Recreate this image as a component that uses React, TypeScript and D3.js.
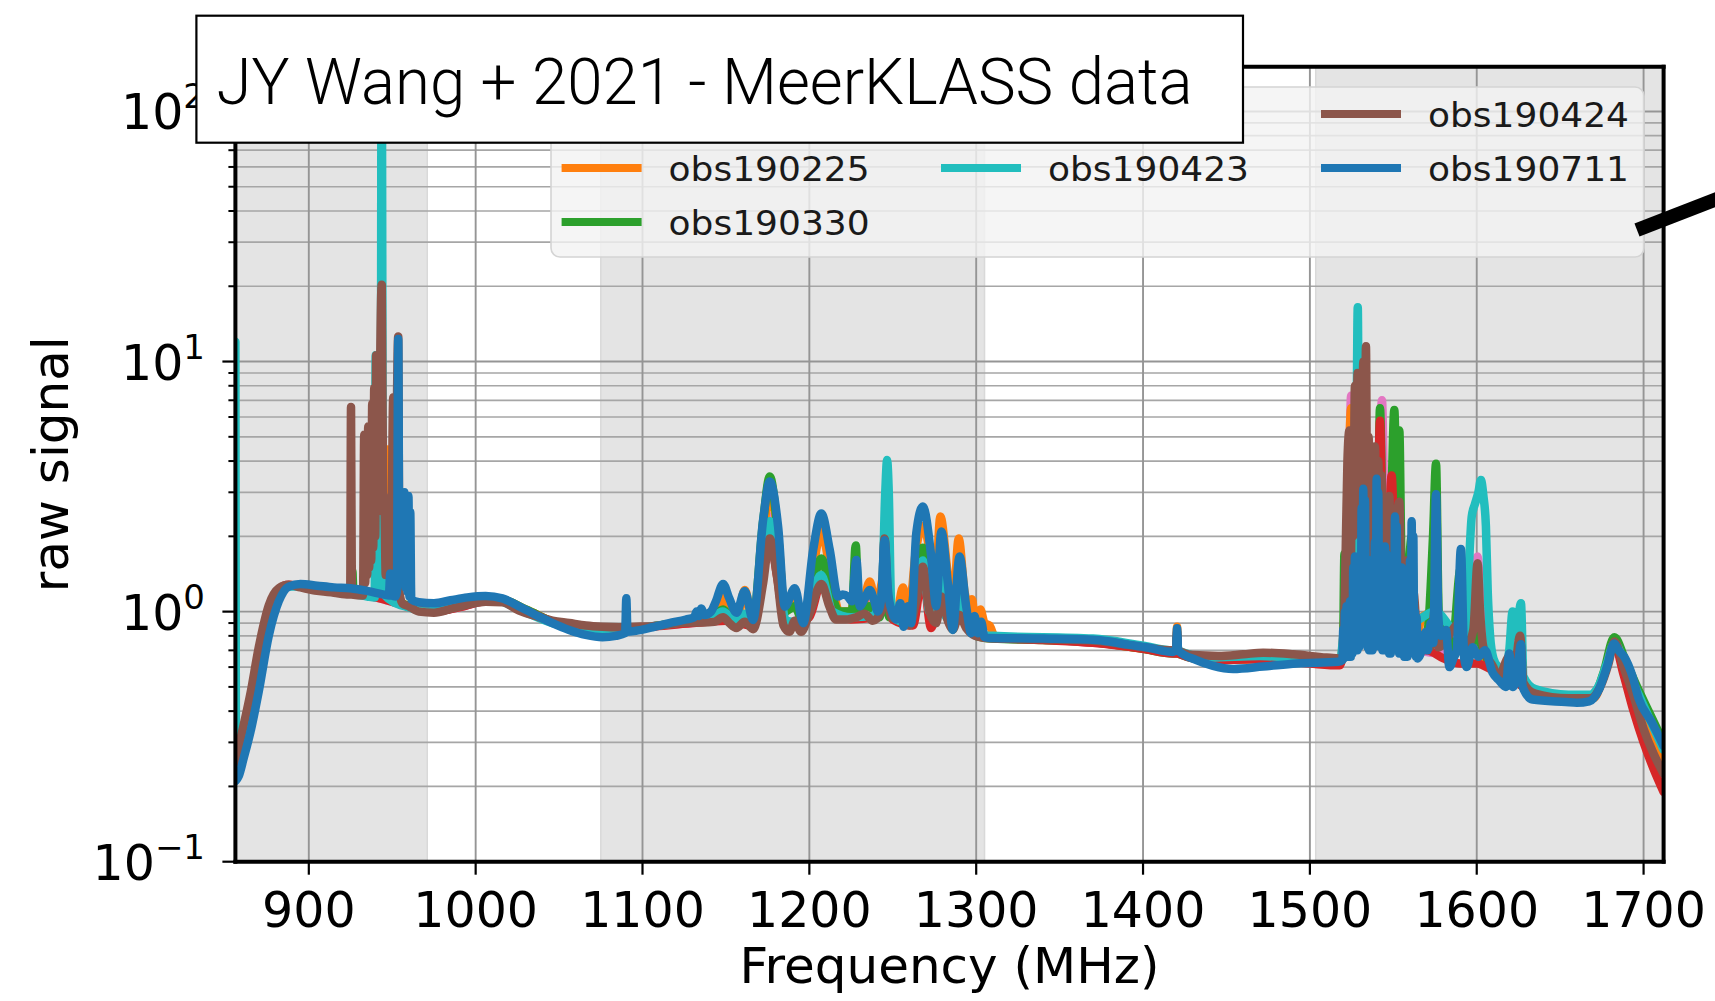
import React from 'react';
import * as d3 from 'd3';

type Pt = [number, number];

// Axis extents and tick values
const freqDomain: [number, number] = [856, 1712];
const signalDomain: [number, number] = [0.1, 151];
const freqTicks = [900, 1000, 1100, 1200, 1300, 1400, 1500, 1600, 1700];
const decadeTicks = [0.1, 1, 10, 100];
const decadeExponents = ['\u22121', '0', '1', '2'];

// Flagged (shaded) frequency bands, MHz
const maskedBands: Pt[] = [
  [856, 971],
  [1075, 1305],
  [1503.5, 1712],
];

// Raw signal spectra, [frequency MHz, raw signal]
const obs190711: Pt[] = [
  [856, 0.21], [858, 0.22], [861, 0.26], [865, 0.33], [870, 0.48], [876, 0.8], [882, 1.1], [888, 1.26],
  [895, 1.29], [905, 1.27], [915, 1.25], [925, 1.24], [935, 1.21], [945, 1.17], [948, 1.16], [948.8, 1.42],
  [949.5, 1.16], [952, 1.15], [952.8, 1.2], [953.6, 12.3], [954.3, 1.3], [954.9, 3.0], [955.5, 1.3],
  [956.1, 3.0], [956.7, 1.3], [957.3, 3.0], [957.9, 1.25], [958.5, 2.9], [959.1, 1.2], [959.7, 2.9],
  [960.3, 1.15], [960.8, 2.5], [961.4, 1.12], [966, 1.09], [975, 1.08], [985, 1.11], [995, 1.14],
  [1006, 1.155], [1016, 1.13], [1026, 1.05], [1036, 0.97], [1046, 0.9], [1056, 0.845], [1066, 0.807],
  [1076, 0.79], [1084, 0.8], [1089.6, 0.82], [1090.3, 1.13], [1091, 0.83], [1096, 0.838], [1106, 0.866],
  [1116, 0.899], [1126, 0.93], [1131, 0.95], [1132.4, 1.0], [1133.8, 0.96], [1135.3, 1.03], [1137, 0.97],
  [1141, 1.0], [1144, 1.1], [1148.3, 1.29], [1152, 1.13], [1156.3, 0.99], [1161.3, 1.21], [1166.3, 0.926],
  [1172.3, 2.33], [1176.3, 3.31], [1181.3, 2.18], [1185.3, 1.047], [1191.3, 1.24], [1196.3, 0.899],
  [1202.3, 1.77], [1207.2, 2.47], [1212.2, 1.77], [1217.2, 1.15], [1220, 1.17], [1223, 1.15], [1225.5, 1.1],
  [1228.2, 1.61], [1230.2, 1.05], [1233, 1.12], [1236.2, 1.22], [1239, 1.1], [1241, 1.0], [1243.2, 1.15],
  [1245.1, 1.93], [1247.2, 1.2], [1249.5, 1.0], [1252.1, 0.93], [1254.5, 1.08], [1256.6, 0.87], [1259, 1.05],
  [1261, 0.9], [1264.1, 2.06], [1268, 2.63], [1273, 1.67], [1276, 1.05], [1279.1, 2.09], [1283, 1.3],
  [1286, 0.845], [1290, 1.66], [1294, 1.05], [1297, 0.82], [1299, 0.96], [1301, 0.82], [1303, 0.91],
  [1305, 0.79], [1308, 0.785], [1340, 0.78], [1372, 0.77], [1392, 0.736], [1402, 0.72], [1418, 0.69],
  [1419.8, 0.7], [1420.4, 0.858], [1421, 0.7], [1432, 0.64], [1442, 0.607], [1454, 0.59], [1472, 0.603],
  [1492, 0.62], [1517, 0.63], [1519.5, 0.64], [1520, 0.85], [1520.5, 0.65], [1521, 1.0], [1521.5, 0.66],
  [1522, 1.05], [1522.5, 0.66], [1523, 0.95], [1523.5, 0.67], [1524, 1.1], [1524.5, 0.66], [1525, 1.05],
  [1525.5, 0.68], [1526, 1.5], [1526.5, 0.7], [1527, 1.66], [1527.5, 0.7], [1528, 1.55], [1528.5, 0.7],
  [1529, 1.6], [1529.5, 0.72], [1530, 1.45], [1530.5, 0.75], [1531, 2.6], [1531.5, 0.8], [1532, 3.1],
  [1532.5, 0.8], [1533, 2.8], [1533.5, 0.75], [1534, 1.6], [1534.5, 0.72], [1535, 1.5], [1535.5, 0.7],
  [1536, 1.6], [1536.5, 0.7], [1537, 1.45], [1537.5, 0.7], [1538, 1.6], [1538.5, 0.72], [1539, 1.9],
  [1539.5, 0.8], [1540, 3.4], [1540.5, 0.8], [1541, 3.0], [1541.5, 0.75], [1542, 1.8], [1542.5, 0.72],
  [1543, 1.75], [1543.5, 0.7], [1544, 1.8], [1544.5, 0.7], [1545, 1.82], [1545.5, 0.7], [1546, 1.7],
  [1546.5, 0.7], [1547, 1.5], [1547.5, 0.68], [1548, 1.45], [1548.5, 0.68], [1549, 1.5], [1549.5, 0.7],
  [1550, 1.6], [1550.5, 0.75], [1551, 2.4], [1551.5, 0.75], [1552, 2.2], [1552.5, 0.72], [1553, 1.5],
  [1553.5, 0.68], [1554, 1.45], [1554.5, 0.68], [1555, 1.5], [1555.5, 0.68], [1556, 1.4], [1556.5, 0.66],
  [1557, 1.45], [1557.5, 0.66], [1558, 1.2], [1558.5, 0.66], [1559, 1.25], [1559.5, 0.7], [1560, 1.6],
  [1560.5, 0.75], [1561, 2.3], [1561.5, 0.75], [1562, 2.0], [1562.5, 0.7], [1563, 1.0], [1563.5, 0.66],
  [1564, 0.95], [1564.5, 0.65], [1565.5, 0.66], [1567.5, 0.72], [1569.5, 0.83],
  [1570.5, 0.7], [1572.5, 0.9], [1574, 0.75], [1575.6, 2.95], [1577, 0.95], [1578.5, 0.8], [1581.6, 0.845],
  [1583.6, 0.6], [1586, 0.65], [1588, 0.7], [1590.5, 1.78], [1592.5, 0.65], [1594, 0.6], [1597.5, 0.72],
  [1601, 0.66], [1605, 0.7], [1609.5, 0.57], [1613.5, 0.53], [1617.5, 0.5], [1619.5, 0.68], [1621.5, 0.5],
  [1624, 0.55], [1626.5, 0.74], [1627.5, 0.5], [1633.5, 0.445], [1653.4, 0.435], [1660, 0.432],
  [1667.4, 0.438], [1673.4, 0.49], [1678, 0.6], [1682.4, 0.745], [1685, 0.7], [1688.4, 0.66], [1693.4, 0.55],
  [1697, 0.45], [1705, 0.36], [1712, 0.29],
];

const obs190424: Pt[] = [
  [856, 0.25], [860, 0.33], [865, 0.47], [870, 0.72], [876, 1.06], [882, 1.24], [888, 1.28], [895, 1.25],
  [905, 1.21], [915, 1.19], [924, 1.17], [924.8, 1.17], [925.3, 6.58], [925.8, 1.17], [932.5, 1.16],
  [933.2, 5.1], [933.8, 1.3], [934.4, 5.0], [935.0, 1.4], [935.6, 5.5], [936.2, 1.5], [936.8, 5.2],
  [937.4, 1.6], [938.0, 6.8], [938.6, 1.8], [939.2, 7.85], [939.8, 2.0], [940.4, 10.6], [941.0, 2.5],
  [941.6, 10.6], [942.2, 3.0], [942.8, 10.0], [943.7, 20.3], [944.5, 3.0], [945.3, 2.8], [946.1, 1.4],
  [946.8, 2.8], [947.6, 1.4], [948.4, 2.7], [949.2, 1.3], [950.6, 7.2], [951.3, 1.2], [953.6, 12.6],
  [954.3, 1.2], [956, 1.08], [960, 1.05], [966, 1.0], [975, 0.99], [986, 1.03], [996, 1.07], [1006, 1.096],
  [1016, 1.09], [1026, 1.01], [1036, 0.96], [1046, 0.92], [1056, 0.9], [1066, 0.88], [1076, 0.87],
  [1086, 0.866], [1096, 0.87], [1106, 0.875], [1116, 0.89], [1126, 0.905], [1136, 0.905], [1143, 0.91],
  [1148.3, 0.95], [1152, 0.9], [1156.3, 0.86], [1161.3, 0.91], [1166.3, 0.85], [1172.3, 1.3], [1176.3, 1.96],
  [1180.5, 1.4], [1184.5, 0.88], [1188, 0.83], [1191.3, 0.92], [1195, 0.83], [1200, 0.98], [1207.2, 1.29],
  [1212, 1.05], [1216, 0.93], [1222, 0.93], [1228, 0.95], [1233, 0.98], [1238, 0.92], [1243, 1.0],
  [1245.1, 1.96], [1247.2, 1.1], [1250, 0.94], [1256, 0.95], [1260, 0.88], [1264, 1.1], [1268, 1.51],
  [1272, 1.0], [1276, 0.9], [1279.1, 1.15], [1283, 0.92], [1286, 0.85], [1290, 0.97], [1294, 0.86],
  [1298, 0.81], [1305, 0.785], [1310, 0.78], [1340, 0.775], [1372, 0.765], [1400, 0.72], [1418, 0.7],
  [1419.8, 0.7], [1420.4, 0.83], [1421, 0.7], [1430, 0.67], [1445, 0.665], [1460, 0.675], [1472, 0.685],
  [1490, 0.675], [1510, 0.655], [1518, 0.65], [1519.5, 0.66], [1521, 1.2], [1522.5, 4.0], [1523.7, 5.3],
  [1524.5, 1.5], [1525.3, 5.0], [1526, 2.0], [1527, 8.0], [1527.8, 3.0], [1528.6, 9.0], [1529.4, 2.5],
  [1530.2, 8.5], [1531, 2.0], [1532, 10], [1533, 3.0], [1533.6, 11.5], [1534.4, 2.0], [1535.2, 5.0],
  [1536, 1.5], [1537, 4.5], [1538, 1.5], [1539, 4.57], [1540, 1.3], [1541, 4.0], [1542, 1.2], [1543, 3.5],
  [1544, 1.1], [1546, 1.5], [1547.6, 2.9], [1549, 1.0], [1551, 1.8], [1553.6, 2.75], [1555, 1.0],
  [1558, 1.6], [1560, 0.8], [1562, 1.2], [1565, 0.72], [1572, 0.72], [1575.6, 1.1], [1577, 0.72],
  [1590, 0.9], [1593, 0.7], [1598, 0.85], [1600.5, 1.56], [1602, 1.0], [1604, 0.72], [1610, 0.6],
  [1613, 0.55], [1619.5, 0.66], [1622, 0.55], [1626, 0.8], [1628, 0.52], [1635, 0.47], [1655, 0.45],
  [1668, 0.45], [1674, 0.5], [1679, 0.62], [1682.5, 0.76], [1688, 0.6], [1694, 0.46], [1700, 0.34],
  [1706, 0.27], [1712, 0.225],
];

const obs190423: Pt[] = [
  [856, 12], [856.4, 0.24], [860, 0.28], [865, 0.37], [870, 0.56], [876, 0.9], [882, 1.17], [888, 1.26],
  [895, 1.26], [905, 1.23], [915, 1.2], [925, 1.18], [935, 1.15], [939.5, 1.14], [940.1, 10.6], [940.7, 1.3],
  [943, 1.3], [943.7, 400], [944.4, 1.2], [950, 1.1], [960, 1.04], [970, 1.0], [985, 1.04], [1000, 1.09],
  [1012, 1.11], [1026, 1.02], [1046, 0.9], [1066, 0.845], [1086, 0.85], [1106, 0.875], [1126, 0.91],
  [1140, 0.93], [1148, 1.0], [1156, 0.92], [1161, 0.98], [1166, 0.9], [1172, 1.6], [1176.3, 2.3],
  [1181, 1.5], [1186, 0.92], [1196, 0.9], [1207, 1.4], [1214, 1.0], [1225, 0.95], [1238, 0.96],
  [1243.5, 1.2], [1245.5, 3.0], [1246.6, 4.04], [1247.6, 3.0], [1249, 1.1], [1252, 0.93], [1260, 0.9],
  [1264, 1.3], [1268, 1.6], [1272, 1.0], [1278.5, 1.45], [1282, 0.95], [1289.5, 1.22], [1294, 0.9],
  [1300, 0.82], [1310, 0.8], [1370, 0.78], [1400, 0.73], [1418, 0.7], [1419.8, 0.7], [1420.4, 0.8],
  [1421, 0.7], [1440, 0.655], [1470, 0.665], [1500, 0.645], [1518, 0.64], [1522, 1.0], [1524, 0.7],
  [1527.5, 2.0], [1528.7, 16.5], [1529.7, 1.0], [1533, 1.5], [1540, 1.2], [1545, 0.9], [1552, 1.5],
  [1560, 0.9], [1575, 1.0], [1590, 0.8], [1594, 0.85], [1595.5, 1.6], [1597, 2.4], [1599, 2.7],
  [1601, 3.0], [1602.5, 3.36], [1604, 2.9], [1605.5, 2.2], [1606.6, 1.2], [1608, 0.8], [1610, 0.65],
  [1613, 0.6], [1617, 0.58], [1619.5, 0.7], [1621.5, 1.0], [1623.5, 0.8], [1626.5, 1.08], [1628, 0.55],
  [1635, 0.49], [1655, 0.465], [1668, 0.465], [1674, 0.52], [1678, 0.62], [1682.5, 0.75], [1688, 0.64],
  [1695, 0.5], [1703, 0.38], [1712, 0.28],
];

const obs190330: Pt[] = [
  [856, 0.23], [860, 0.29], [865, 0.4], [870, 0.6], [876, 0.95], [882, 1.2], [888, 1.27], [895, 1.27],
  [905, 1.24], [915, 1.21], [925.5, 1.2], [926.1, 1.45], [926.7, 1.2], [935, 1.17], [945, 1.13], [955, 1.08],
  [965, 1.03], [975, 1.0], [990, 1.05], [1005, 1.11], [1015, 1.12], [1030, 1.02], [1050, 0.89], [1070, 0.83],
  [1090, 0.84], [1110, 0.88], [1130, 0.92], [1140, 0.93], [1148.3, 1.02], [1153, 0.94], [1156.3, 0.9],
  [1161.3, 0.97], [1166, 0.9], [1172.3, 2.3], [1176.3, 3.47], [1181, 2.1], [1185.3, 1.0], [1191.3, 1.05],
  [1196.3, 0.9], [1202.3, 1.3], [1207.2, 1.63], [1212.2, 1.25], [1218, 1.0], [1225.5, 1.0], [1227.8, 1.84],
  [1229.5, 1.0], [1236, 1.05], [1242, 0.95], [1245.1, 1.3], [1248, 0.95], [1256, 0.95], [1260, 0.9],
  [1264.1, 1.5], [1268, 1.8], [1273, 1.2], [1276, 0.95], [1278.5, 1.5], [1283, 1.0], [1286, 0.85],
  [1289.5, 1.2], [1294, 0.9], [1300, 0.8], [1310, 0.78], [1340, 0.77], [1370, 0.755], [1400, 0.71],
  [1418, 0.68], [1419.8, 0.68], [1420.4, 0.8], [1421, 0.68], [1440, 0.64], [1470, 0.65], [1500, 0.635],
  [1518, 0.63], [1519.8, 0.65], [1520.7, 1.7], [1521.5, 0.7], [1524, 1.0], [1527, 2.0], [1530, 1.4],
  [1534, 1.5], [1538, 2.5], [1540.5, 1.5], [1542, 6.5], [1543.5, 2.5], [1546, 1.5], [1548.5, 2.3],
  [1550.6, 6.4], [1552, 3.0], [1553.6, 5.3], [1555, 1.5], [1558, 1.2], [1561, 2.0], [1563, 0.8], [1570, 0.8],
  [1573.8, 2.0], [1575.6, 3.9], [1577.2, 1.0], [1585, 0.7], [1590.5, 1.5], [1593, 0.65], [1600, 0.8],
  [1604, 0.7], [1612, 0.56], [1620, 0.56], [1626, 0.7], [1628, 0.5], [1640, 0.46], [1660, 0.45], [1670, 0.46],
  [1676, 0.57], [1682.5, 0.79], [1689, 0.64], [1695, 0.52], [1703, 0.4], [1712, 0.3],
];

const obs190225: Pt[] = [
  [856, 0.23], [860, 0.28], [865, 0.38], [870, 0.57], [876, 0.92], [882, 1.18], [888, 1.27], [895, 1.27],
  [905, 1.24], [915, 1.21], [925, 1.2], [935, 1.17], [945, 1.14], [946.6, 1.3], [947.2, 4.45], [947.8, 1.3],
  [955, 1.09], [965, 1.03], [975, 1.0], [990, 1.05], [1005, 1.11], [1015, 1.12], [1030, 1.02], [1050, 0.89],
  [1070, 0.83], [1090, 0.84], [1110, 0.88], [1130, 0.92], [1140, 0.93], [1144, 1.0], [1148.3, 1.2],
  [1152, 0.95], [1156.3, 0.9], [1161.3, 1.22], [1166.3, 0.9], [1172.3, 2.0], [1176.3, 3.0], [1181.3, 2.0],
  [1185.3, 1.0], [1191.3, 1.1], [1196.3, 0.9], [1202.3, 1.5], [1207.2, 2.1], [1212.2, 1.5], [1218, 1.0],
  [1225, 1.0], [1228, 1.2], [1231, 1.0], [1236.2, 1.32], [1240, 1.05], [1245, 1.4], [1248, 1.0], [1252, 0.95],
  [1256.1, 1.25], [1259, 0.9], [1264.1, 1.8], [1268, 2.2], [1273, 1.6], [1275.5, 1.2], [1278.5, 2.4],
  [1283, 1.4], [1286, 1.0], [1289.5, 1.96], [1293, 1.2], [1296, 1.05], [1297.5, 1.12], [1299, 0.95],
  [1302.5, 1.02], [1305, 0.9], [1308, 0.88], [1311, 0.8], [1340, 0.775], [1370, 0.755], [1400, 0.71],
  [1418, 0.685], [1419.8, 0.685], [1420.4, 0.87], [1421, 0.685], [1440, 0.64], [1470, 0.645], [1500, 0.63],
  [1518, 0.62], [1520, 0.8], [1522, 1.5], [1524.7, 6.5], [1526, 1.5], [1530, 2.0], [1535, 1.2], [1540, 2.0],
  [1545, 1.0], [1550, 1.5], [1556, 0.9], [1563, 0.7], [1567, 0.95], [1572, 0.98], [1578, 0.92], [1583, 0.82],
  [1590, 0.8], [1600, 0.7], [1610, 0.6], [1620, 0.55], [1628, 0.5], [1640, 0.46], [1660, 0.445], [1670, 0.45],
  [1676, 0.55], [1682.5, 0.76], [1689, 0.62], [1695, 0.48], [1703, 0.34], [1712, 0.245],
];

const redSpectrum: Pt[] = [
  [856, 0.25], [860, 0.31], [865, 0.44], [870, 0.68], [876, 1.02], [882, 1.23], [888, 1.28], [895, 1.26],
  [905, 1.23], [915, 1.2], [925, 1.19], [935, 1.16], [945, 1.12], [955, 1.07], [965, 1.02], [975, 1.0],
  [990, 1.04], [1005, 1.1], [1015, 1.11], [1030, 1.01], [1050, 0.89], [1070, 0.85], [1090, 0.85],
  [1110, 0.875], [1130, 0.9], [1150, 0.92], [1166, 0.88], [1172, 1.5], [1176.3, 2.0], [1180.5, 1.4],
  [1186, 0.86], [1200, 0.95], [1207.2, 1.3], [1214, 1.0], [1225, 0.93], [1240, 0.95], [1245.1, 1.3],
  [1250, 0.93], [1262, 0.88], [1268, 1.4], [1273, 0.86], [1279.1, 1.2], [1284, 0.9], [1290, 1.0],
  [1295, 0.85], [1305, 0.79], [1340, 0.77], [1370, 0.75], [1400, 0.71], [1418, 0.68], [1419.8, 0.68],
  [1420.4, 0.8], [1421, 0.68], [1440, 0.64], [1470, 0.645], [1500, 0.62], [1518, 0.61], [1520, 0.7],
  [1523, 1.2], [1525, 0.8], [1528, 3.0], [1530, 1.0], [1533, 2.0], [1536, 1.0], [1538.5, 4.5], [1540, 1.5],
  [1542, 5.8], [1543.5, 2.0], [1546, 1.2], [1549, 3.5], [1551, 1.5], [1553, 1.2], [1556, 0.9], [1560, 1.2],
  [1563, 0.7], [1570, 0.7], [1580, 0.65], [1590, 0.62], [1600, 0.62], [1610, 0.58], [1620, 0.54], [1628, 0.5],
  [1640, 0.46], [1660, 0.445], [1670, 0.455], [1676, 0.55], [1682.5, 0.74], [1688, 0.56], [1694, 0.4],
  [1700, 0.3], [1706, 0.235], [1712, 0.19],
];

const pinkSpectrum: Pt[] = [
  [856, 0.24], [860, 0.3], [865, 0.42], [870, 0.63], [876, 0.98], [882, 1.21], [888, 1.27], [895, 1.26],
  [905, 1.23], [915, 1.2], [925, 1.19], [935, 1.16], [945, 1.12], [955, 1.07], [965, 1.02], [975, 1.0],
  [990, 1.04], [1005, 1.1], [1015, 1.11], [1030, 1.01], [1050, 0.89], [1070, 0.84], [1090, 0.85],
  [1110, 0.88], [1130, 0.9], [1150, 0.93], [1166, 0.9], [1172, 1.6], [1176.3, 2.4], [1180.5, 1.5],
  [1186, 0.9], [1200, 1.0], [1207.2, 1.4], [1214, 1.0], [1225, 0.95], [1233, 1.0], [1236.2, 1.15],
  [1240, 0.95], [1245.1, 1.3], [1250, 0.93], [1268, 1.4], [1273, 0.9], [1279.1, 1.2], [1290, 1.0],
  [1305, 0.8], [1340, 0.775], [1400, 0.715], [1418, 0.685], [1419.8, 0.685], [1420.4, 0.8], [1421, 0.685],
  [1440, 0.645], [1470, 0.65], [1500, 0.63], [1518, 0.62], [1521, 1.0], [1523, 2.0], [1524.7, 7.3],
  [1526, 2.0], [1528, 1.0], [1531, 2.5], [1534, 1.2], [1538, 3.0], [1540, 1.5], [1543.2, 7.0], [1545, 2.0],
  [1548, 1.5], [1552, 1.1], [1556, 0.9], [1565, 0.7], [1580, 0.68], [1596, 0.9], [1600.5, 1.66],
  [1603, 0.9], [1610, 0.6], [1620, 0.6], [1622, 0.75], [1624, 0.6], [1628, 0.52], [1640, 0.47],
  [1660, 0.45], [1670, 0.46], [1676, 0.55], [1682.5, 0.76], [1688, 0.6], [1694, 0.47], [1700, 0.36],
  [1706, 0.31], [1712, 0.27],
];

// Series in plotting order (first drawn at the bottom); legend fills column by column
const seriesLabels = [null, 'obs190225', 'obs190330', null, 'obs190423', 'obs190424', 'obs190711'];
const seriesColors = ['#e377c2', '#ff7f0e', '#2ca02c', '#d62728', '#22bebe', '#8c564b', '#1f77b4'];
const seriesData = [pinkSpectrum, obs190225, obs190330, redSpectrum, obs190423, obs190424, obs190711];

const titleText = 'JY Wang + 2021 - MeerKLASS data';

const tickFont = "'DejaVu Sans', 'Liberation Sans', sans-serif";

export default function App() {
  const width = 1715;
  const height = 1001;
  const plot = { left: 235.4, right: 1663.6, top: 66.7, bottom: 861.7 };

  const x = d3.scaleLinear().domain(freqDomain).range([plot.left, plot.right]);
  const y = d3.scaleLog().domain(signalDomain).range([plot.bottom, plot.top]);
  const line = d3
    .line<Pt>()
    .x((d) => x(d[0]))
    .y((d) => y(d[1]))
    .curve(d3.curveMonotoneX);

  const isDecade = (v: number) => Math.abs(Math.log10(v) - Math.round(Math.log10(v))) < 1e-6;
  const minorTicks = y.ticks().filter((v) => !isDecade(v) && v <= signalDomain[1]);

  const series = seriesData.map((data, i) => ({
    data,
    color: seriesColors[i],
    label: seriesLabels[i],
  }));

  // legend slots: 3 columns holding 3, 2, 2 entries
  const colCounts = [3, 2, 2];
  const slots: { col: number; row: number }[] = [];
  colCounts.forEach((n, c) => {
    for (let r = 0; r < n; r++) slots.push({ col: c, row: r });
  });
  const legendColX = [561.6, 941, 1321];
  const legendRowY = [114, 168, 222];

  return (
    <svg
      width={width}
      height={height}
      viewBox={`0 0 ${width} ${height}`}
      style={{ position: 'absolute', left: 0, top: 0, background: '#ffffff' }}
    >
      <defs>
        <clipPath id="plot-clip">
          <rect x={plot.left} y={plot.top} width={plot.right - plot.left} height={plot.bottom - plot.top} />
        </clipPath>
      </defs>
      <rect x={0} y={0} width={width} height={height} fill="#ffffff" />

      {/* shaded bands */}
      <g>
        {maskedBands.map(([a, b], i) => (
          <rect
            key={i}
            x={x(a)}
            y={plot.top}
            width={x(b) - x(a)}
            height={plot.bottom - plot.top}
            fill="#e4e4e4"
            stroke="#d9d9d9"
            strokeWidth={1.5}
          />
        ))}
      </g>

      {/* grid */}
      <g>
        {minorTicks.map((v, i) => (
          <line key={'gm' + i} x1={plot.left} x2={plot.right} y1={y(v)} y2={y(v)} stroke="#a6a6a6" strokeWidth={1.7} />
        ))}
        {decadeTicks.map((v, i) => (
          <line key={'gM' + i} x1={plot.left} x2={plot.right} y1={y(v)} y2={y(v)} stroke="#959595" strokeWidth={1.9} />
        ))}
        {freqTicks.map((f) => (
          <line key={'gx' + f} x1={x(f)} x2={x(f)} y1={plot.top} y2={plot.bottom} stroke="#959595" strokeWidth={1.9} />
        ))}
      </g>

      {/* spectra */}
      <g clipPath="url(#plot-clip)">
        {series.map((s, i) => (
          <path
            key={i}
            d={line(s.data) || ''}
            fill="none"
            stroke={s.color}
            strokeWidth={8.5}
            strokeLinejoin="round"
            strokeLinecap="round"
          />
        ))}
      </g>

      {/* legend */}
      <g>
        <rect x={551} y={87} width={1093} height={170} rx={9} fill="#f2f2f2" fillOpacity={0.8} stroke="#d4d4d4" strokeWidth={1.6} />
        {series.map((s, i) => {
          if (!s.label) return null;
          const slot = slots[i];
          const lx = legendColX[slot.col];
          const ly = legendRowY[slot.row];
          return (
            <g key={'lg' + i}>
              <line x1={lx} x2={lx + 80} y1={ly} y2={ly} stroke={s.color} strokeWidth={8} />
              <text
                x={lx + 107}
                y={ly + 12.5}
                fontFamily={tickFont}
                fontSize={34}
                textLength={201}
                lengthAdjust="spacingAndGlyphs"
                fill="#1a1a1a"
              >
                {s.label}
              </text>
            </g>
          );
        })}
      </g>

      {/* spines */}
      <g stroke="#000" strokeWidth={4} strokeLinecap="square">
        <line x1={plot.left} x2={plot.left} y1={plot.top} y2={plot.bottom} />
        <line x1={plot.right} x2={plot.right} y1={plot.top} y2={plot.bottom} />
        <line x1={plot.left} x2={plot.right} y1={plot.top} y2={plot.top} />
        <line x1={plot.left} x2={plot.right} y1={plot.bottom} y2={plot.bottom} />
      </g>

      {/* x axis */}
      <g>
        {freqTicks.map((f) => (
          <g key={'xt' + f}>
            <line x1={x(f)} x2={x(f)} y1={plot.bottom} y2={plot.bottom + 13} stroke="#000" strokeWidth={2.2} />
            <text x={x(f)} y={plot.bottom + 65} textAnchor="middle" fontFamily={tickFont} fontSize={49} fill="#000">
              {f}
            </text>
          </g>
        ))}
        <text x={(plot.left + plot.right) / 2} y={983} textAnchor="middle" fontFamily={tickFont} fontSize={50} fill="#000">
          Frequency (MHz)
        </text>
      </g>

      {/* y axis */}
      <g>
        {minorTicks.map((v, i) => (
          <line key={'ym' + i} x1={plot.left - 7} x2={plot.left} y1={y(v)} y2={y(v)} stroke="#000" strokeWidth={2} />
        ))}
        {decadeTicks.map((v, i) => (
          <g key={'yt' + i}>
            <line x1={plot.left - 13} x2={plot.left} y1={y(v)} y2={y(v)} stroke="#000" strokeWidth={2.2} />
            <text x={205} y={y(v) + 18} textAnchor="end" fontFamily={tickFont} fontSize={49} fill="#000">
              10
              <tspan dy={-21} fontSize={34}>
                {decadeExponents[i]}
              </tspan>
            </text>
          </g>
        ))}
        <text
          transform={`translate(68, ${(plot.top + plot.bottom) / 2}) rotate(-90)`}
          textAnchor="middle"
          fontFamily={tickFont}
          fontSize={50}
          fill="#000"
        >
          raw signal
        </text>
      </g>

      {/* title box */}
      <g>
        <rect x={196.4} y={15.7} width={1046.6} height={127} fill="#ffffff" stroke="#000" strokeWidth={2.2} />
        <text
          x={216.5}
          y={104}
          fontFamily="Roboto, 'Liberation Sans', sans-serif"
          fontWeight={300}
          fontSize={64}
          textLength={976}
          lengthAdjust="spacingAndGlyphs"
          fill="#000"
        >
          {titleText}
        </text>
      </g>

      {/* pointer stroke at right */}
      <line x1={1637} y1={230} x2={1740} y2={190} stroke="#000" strokeWidth={14} strokeLinecap="butt" />
    </svg>
  );
}
